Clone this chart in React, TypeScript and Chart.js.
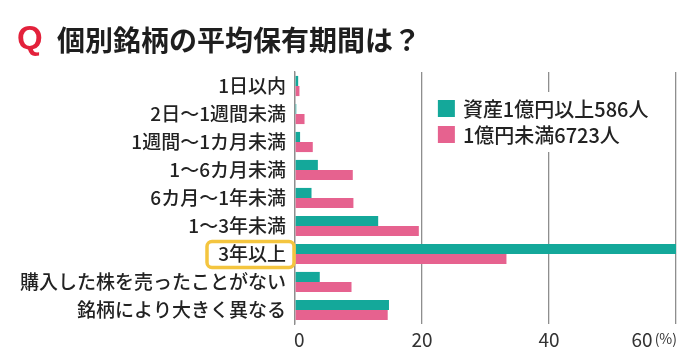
import React, { useEffect, useRef } from "react";
import { Chart, registerables } from "chart.js";

Chart.register(...registerables);

const categories = [
  "1日以内",
  "2日〜1週間未満",
  "1週間〜1カ月未満",
  "1〜6カ月未満",
  "6カ月〜1年未満",
  "1〜3年未満",
  "3年以上",
  "購入した株を売ったことがない",
  "銘柄により大きく異なる",
];
const richValues = [0.5, 0.2, 0.8, 3.6, 2.6, 13.1, 60, 3.9, 14.8];
const otherValues = [0.7, 1.5, 2.8, 9.1, 9.2, 19.5, 33.3, 8.9, 14.6];
const seriesNames = ["資産1億円以上586人", "1億円未満6723人"];
const xTicks = [0, 20, 40, 60];
const highlightIndex = 6;
const titleText = "個別銘柄の平均保有期間は？";

const TEAL = "#14a89a";
const PINK = "#e6628f";
const FONT = "'Noto Sans CJK JP', 'Noto Sans', sans-serif";

const overlayPlugin = {
  id: "overlay",
  afterDraw(chart: any) {
    const ctx = chart.ctx;
    const xs = chart.scales.x;
    const ys = chart.scales.y;
    const area = chart.chartArea;
    ctx.save();
    // Title
    ctx.textBaseline = "middle";
    ctx.textAlign = "left";
    ctx.fillStyle = "#e3213b";
    ctx.font = "bold 33px 'Liberation Sans', Arial, sans-serif";
    ctx.fillText("Q", 17, 40);
    ctx.fillStyle = "#1e1e1e";
    ctx.font = `bold 28px ${FONT}`;
    ctx.fillText(titleText, 57, 40);

    // X tick labels
    ctx.fillStyle = "#333";
    ctx.font = `19px ${FONT}`;
    const ty = area.bottom + 16;
    xTicks.forEach((v, i) => {
      const px = xs.getPixelForValue(v);
      if (i === 0) {
        ctx.textAlign = "left";
        ctx.fillText(String(v), px - 1, ty);
      } else if (i === xTicks.length - 1) {
        ctx.font = `14px ${FONT}`;
        ctx.textAlign = "right";
        const unit = "(%)";
        const pw = ctx.measureText(unit).width;
        ctx.fillText(unit, px + 1, ty - 1);
        ctx.font = `19px ${FONT}`;
        ctx.fillText(String(v), px - pw - 1, ty);
      } else {
        ctx.textAlign = "center";
        ctx.fillText(String(v), px, ty);
      }
    });

    // Highlight box around a category label
    const cy = ys.getPixelForValue(highlightIndex);
    ctx.strokeStyle = "#f4c53f";
    ctx.lineWidth = 3.5;
    ctx.beginPath();
    (ctx as any).roundRect(207, cy - 12.5, 87, 26, 5);
    ctx.stroke();

    // Legend
    const lx = xs.getPixelForValue(22.5);
    const ly = 98;
    ctx.fillStyle = "#fff";
    ctx.fillRect(lx - 8, ly - 6, 230, 60);
    ctx.fillStyle = TEAL;
    ctx.fillRect(lx, ly + 2, 17, 17);
    ctx.fillStyle = PINK;
    ctx.fillRect(lx, ly + 28, 17, 17);
    ctx.fillStyle = "#222";
    ctx.font = `500 20px ${FONT}`;
    ctx.textAlign = "left";
    ctx.fillText(seriesNames[0], lx + 25, ly + 11);
    ctx.fillText(seriesNames[1], lx + 25, ly + 37);
    ctx.restore();
  },
};

export default function App() {
  const ref = useRef<HTMLCanvasElement>(null);
  useEffect(() => {
    const chart = new Chart(ref.current as HTMLCanvasElement, {
      type: "bar",
      data: {
        labels: categories,
        datasets: [
          { label: seriesNames[0], data: richValues, backgroundColor: TEAL },
          { label: seriesNames[1], data: otherValues, backgroundColor: PINK },
        ],
      },
      options: {
        indexAxis: "y",
        animation: false,
        responsive: true,
        maintainAspectRatio: false,
        layout: { padding: { top: 72, right: 21, left: 0, bottom: 0 } },
        datasets: { bar: { categoryPercentage: 0.72, barPercentage: 1.0 } },
        plugins: { legend: { display: false }, tooltip: { enabled: false } },
        scales: {
          x: {
            min: 0,
            max: 60,
            ticks: { display: false, stepSize: 20 },
            grid: { color: "#8e8e8e", lineWidth: 1.3, drawTicks: false },
            border: { display: false },
            afterFit: (s: any) => {
              s.height = 40;
            },
          },
          y: {
            ticks: {
              color: "#222",
              font: { family: FONT, size: 19, weight: "500" },
              padding: 9,
              autoSkip: false,
            },
            grid: { display: false, drawTicks: false },
            border: { display: true, color: "#8e8e8e", width: 1.3 },
            afterFit: (s: any) => {
              s.width = 295;
            },
          },
        },
      },
      plugins: [overlayPlugin],
    } as any);
    return () => chart.destroy();
  }, []);
  return (
    <div style={{ position: "fixed", left: 0, top: 0, width: 697, height: 364, background: "#fff" }}>
      <canvas ref={ref} />
    </div>
  );
}
